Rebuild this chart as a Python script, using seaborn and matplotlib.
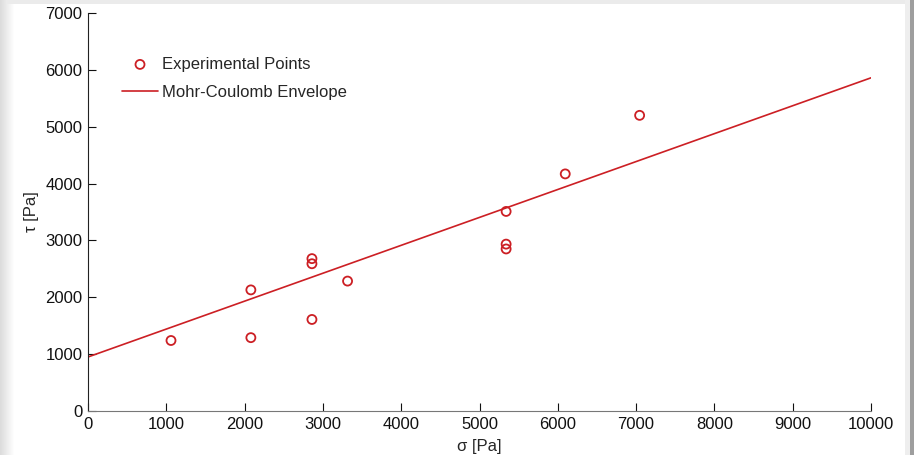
import numpy as np
import pandas as pd
import matplotlib
matplotlib.use("Agg")
import matplotlib.pyplot as plt
import seaborn as sns

# 实验点 (sigma, tau) [Pa]
sigma_pts = [1060, 2080, 2080, 2860, 2860, 2860, 3315, 5340, 5340, 5340, 6095, 7045]
tau_pts = [1240, 1290, 2130, 2680, 2590, 1610, 2285, 3510, 2935, 2850, 4170, 5200]

# Mohr-Coulomb 包络线端点
env_sigma = [0, 10000]
env_tau = [950, 5860]

x_ticks = list(range(0, 10001, 1000))
y_ticks = list(range(0, 7001, 1000))

RED = "#cc1f24"

sns.set_style("ticks")
plt.rcParams["font.family"] = ["Liberation Sans", "DejaVu Sans"]

fig = plt.figure(figsize=(9.14, 4.55), dpi=100)

# 背景：灰色渐变边框
bg = fig.add_axes([0, 0, 1, 1], zorder=-10)
img = np.ones((455, 914))
img[:, :15] = np.linspace(0.86, 1.0, 15)[None, :]
img[:4, :] = np.minimum(img[:4, :], 0.92)
img[:, 905:910] = 0.93
img[:, 910:] = 0.62
bg.imshow(img, cmap="gray", vmin=0, vmax=1, aspect="auto", interpolation="nearest")
bg.axis("off")

ax = fig.add_axes([88 / 914, 44 / 455, 783 / 914, 398 / 455])
ax.patch.set_alpha(0)

df_pts = pd.DataFrame({"sigma": sigma_pts, "tau": tau_pts})
df_env = pd.DataFrame({"sigma": env_sigma, "tau": env_tau})

sns.scatterplot(data=df_pts, x="sigma", y="tau", ax=ax, marker="o",
                facecolor="none", edgecolor=RED, linewidth=1.3, s=42,
                label="Experimental Points", zorder=3)
sns.lineplot(data=df_env, x="sigma", y="tau", ax=ax, color=RED,
             linewidth=1.2, label="Mohr-Coulomb Envelope", zorder=2)

ax.set_xlim(0, 10000)
ax.set_ylim(0, 7000)
ax.set_xticks(x_ticks)
ax.set_yticks(y_ticks)
ax.tick_params(direction="in", length=6, width=0.8, labelsize=12, colors="#111111", pad=4)
for s in ["top", "right"]:
    ax.spines[s].set_visible(False)
ax.spines["left"].set_color("#222222")
ax.spines["bottom"].set_color("#777777")

ax.set_xlabel("σ [Pa]", fontsize=12, labelpad=5)
ax.set_ylabel("τ [Pa]", fontsize=12)
ax.yaxis.set_label_coords(-0.063, 0.5)

leg = ax.legend(loc="upper left", bbox_to_anchor=(0.043, 0.89), frameon=False,
                fontsize=12, borderaxespad=0, borderpad=0, handlelength=2.2,
                handletextpad=0.2, labelspacing=0.8)
for h in leg.legend_handles:
    try:
        h.set_sizes([42])
    except AttributeError:
        pass

fig.savefig("out.png", dpi=100)
